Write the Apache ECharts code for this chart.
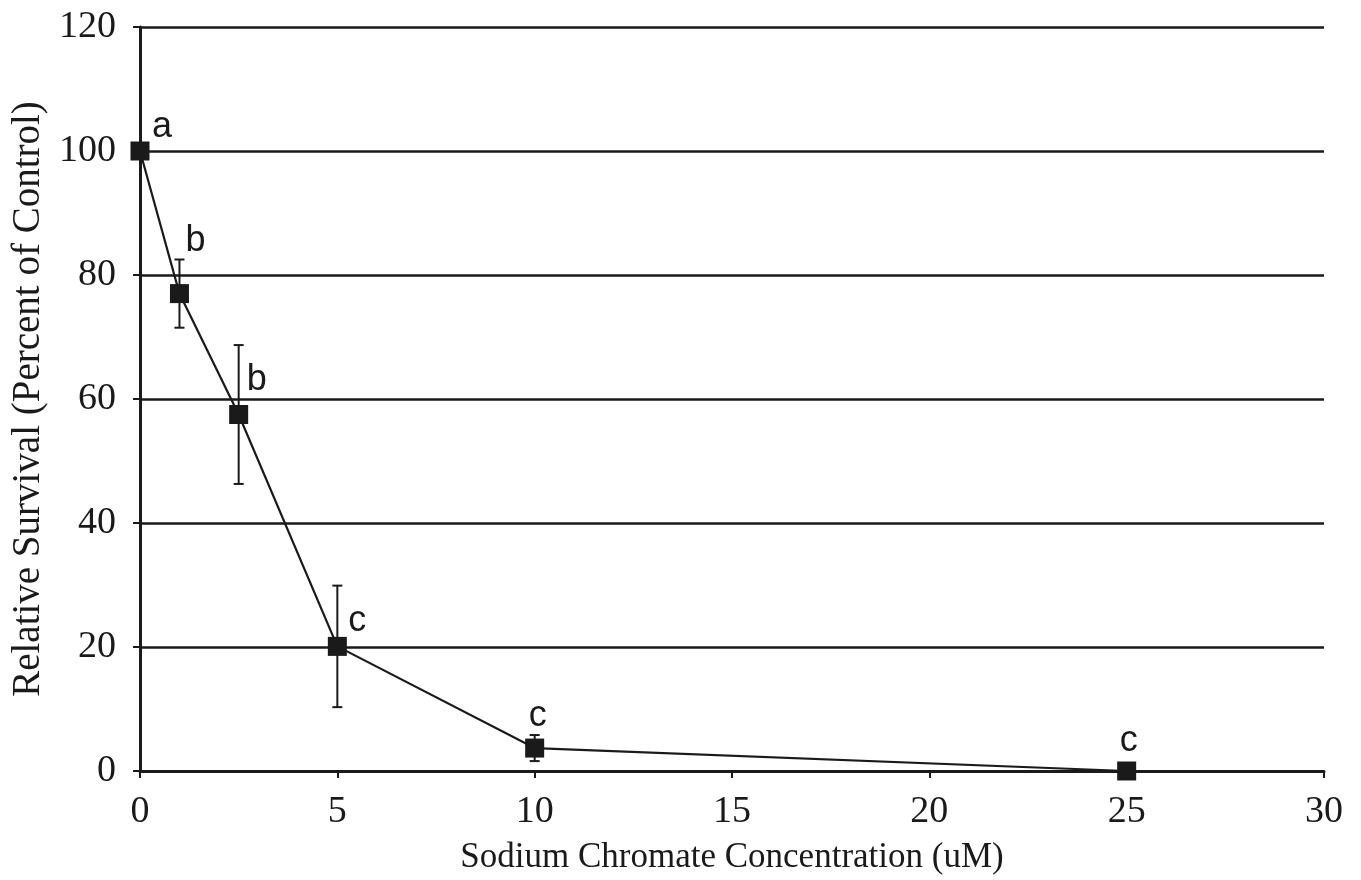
<!DOCTYPE html>
<html>
<head>
<meta charset="utf-8">
<script src="https://cdn.jsdelivr.net/npm/echarts@6/dist/echarts.min.js"></script>
<style>html,body{margin:0;padding:0;background:#fff}#c{width:1361px;height:880px}</style>
</head>
<body>
<div id="c"></div>
<script>
// Data
const concentrations = [0, 1, 2.5, 5, 10, 25];
const survival = [100, 77, 57.5, 20.1, 3.7, 0];
const errors = [0, 5.5, 11.2, 9.8, 2.1, 0];
const letters = ['a', 'b', 'b', 'c', 'c', 'c'];
const xTicks = [0, 5, 10, 15, 20, 25, 30];
const yTicks = [0, 20, 40, 60, 80, 100, 120];

// Style: label offsets (px) from marker centre
const labelOffsets = [[22, -24], [16, -53], [18, -34], [20, -25], [3, -32], [2, -30]];

const ink = '#1a1a1a';
const serif = '"Liberation Serif", "Times New Roman", serif';
const sans = '"Liberation Sans", Arial, sans-serif';

const lineData = concentrations.map((x, i) => ({
  value: [x, survival[i]],
  label: {
    show: true,
    formatter: letters[i],
    position: 'inside',
    offset: labelOffsets[i],
    fontFamily: sans,
    fontSize: 36,
    color: ink
  }
}));

const errData = concentrations.map((x, i) => [x, survival[i], errors[i]]);

const chart = echarts.init(document.getElementById('c'), null, {renderer: 'canvas'});
chart.setOption({
  animation: false,
  backgroundColor: '#fff',
  grid: {left: 140, right: 37, top: 27, bottom: 109, containLabel: false},
  xAxis: {
    type: 'value', min: xTicks[0], max: xTicks[xTicks.length - 1], interval: 5,
    name: 'Sodium Chromate Concentration (uM)',
    nameLocation: 'middle', nameGap: 69,
    nameTextStyle: {fontFamily: serif, fontSize: 35, color: ink},
    axisLine: {show: true, lineStyle: {color: ink, width: 3}},
    axisTick: {show: true, inside: false, length: 7, lineStyle: {color: ink, width: 2}},
    axisLabel: {margin: 22, fontFamily: serif, fontSize: 38, color: ink},
    splitLine: {show: false}
  },
  yAxis: {
    type: 'value', min: yTicks[0], max: yTicks[yTicks.length - 1], interval: 20,
    name: 'Relative Survival (Percent of Control)',
    nameLocation: 'middle', nameGap: 86,
    nameTextStyle: {fontFamily: serif, fontSize: 39, color: ink},
    axisLine: {show: true, lineStyle: {color: ink, width: 3}},
    axisTick: {show: true, inside: false, length: 7, lineStyle: {color: ink, width: 2}},
    axisLabel: {margin: 24, fontFamily: serif, fontSize: 38, color: ink},
    splitLine: {show: true, lineStyle: {color: ink, width: 2.5}}
  },
  series: [
    {
      type: 'custom',
      z: 3,
      data: errData,
      renderItem: function (params, api) {
        const x = api.value(0), y = api.value(1), e = api.value(2);
        if (!e) return null;
        const top = api.coord([x, y + e]);
        const bot = api.coord([x, y - e]);
        const hw = 5;
        const st = {stroke: ink, lineWidth: 2};
        return {
          type: 'group',
          children: [
            {type: 'line', shape: {x1: top[0], y1: top[1], x2: bot[0], y2: bot[1]}, style: st},
            {type: 'line', shape: {x1: top[0] - hw, y1: top[1], x2: top[0] + hw, y2: top[1]}, style: st},
            {type: 'line', shape: {x1: bot[0] - hw, y1: bot[1], x2: bot[0] + hw, y2: bot[1]}, style: st}
          ]
        };
      }
    },
    {
      type: 'line',
      z: 4,
      data: lineData,
      symbol: 'rect',
      symbolSize: 19,
      lineStyle: {color: ink, width: 2.2},
      itemStyle: {color: ink},
      clip: false
    }
  ]
});
</script>
</body>
</html>
